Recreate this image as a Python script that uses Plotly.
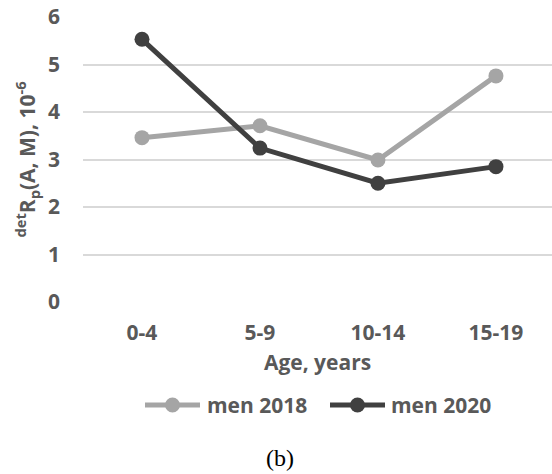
import plotly.graph_objects as go

# Age groups and risk values (x 10^-6)
age_groups = ["0-4", "5-9", "10-14", "15-19"]
men_2018 = [3.46, 3.71, 2.99, 4.76]
men_2020 = [5.53, 3.24, 2.50, 2.85]
y_ticks = [0, 1, 2, 3, 4, 5, 6]
series_names = ["men 2018", "men 2020"]
series_colors = ["#A5A5A5", "#404040"]

GREY_TEXT = "#595959"
FONT = "Open Sans"
BOLD = dict(family=FONT, size=21, color=GREY_TEXT, weight="bold")

# plot area geometry in pixels (used to place the legend in paper units)
W, H = 552, 474
L, R, T, B = 83, 0, 17, 172
PW, PH = W - L - R, H - T - B


def px_to_paper(px, py):
    return (px - L) / PW, (H - B - py) / PH


fig = go.Figure()
for name, vals, col in zip(series_names, [men_2018, men_2020], series_colors):
    fig.add_trace(go.Scatter(
        x=age_groups, y=vals, mode="lines+markers", name=name,
        line=dict(color=col, width=5),
        marker=dict(color=col, size=15),
        showlegend=False,
    ))

fig.update_layout(
    width=W, height=H,
    margin=dict(l=L, r=R, t=T, b=B),
    plot_bgcolor="white", paper_bgcolor="white",
    font=BOLD,
    xaxis=dict(
        type="category", range=[-0.5, 3.475],
        showgrid=False, zeroline=False, showline=False, ticks="",
        ticklabelstandoff=16,
        tickfont=BOLD,
        title=dict(text="Age, years", standoff=10, font=BOLD),
    ),
    yaxis=dict(
        range=[0, 6], tickvals=y_ticks,
        showgrid=True, gridcolor="#D9D9D9", gridwidth=1.5,
        zeroline=False, showline=False, ticks="", ticklabelstandoff=22,
        tickfont=BOLD,
        title=dict(text="<sup>det</sup>R<sub>p</sub>(A, M), 10<sup>-6</sup>",
                   standoff=6, font=BOLD),
    ),
)

# legend: line sample with a centred marker, then the label
legend_items = [(145, 200, 205), (330, 385, 389)]
leg_y = 405
for (x0, x1, xt), name, col in zip(legend_items, series_names, series_colors):
    a0, yy = px_to_paper(x0, leg_y)
    a1, _ = px_to_paper(x1, leg_y)
    am, _ = px_to_paper((x0 + x1) / 2, leg_y)
    fig.add_shape(type="line", xref="paper", yref="paper", x0=a0, x1=a1, y0=yy, y1=yy,
                  line=dict(color=col, width=5))
    fig.add_shape(type="circle", xref="paper", yref="paper",
                  xsizemode="pixel", ysizemode="pixel", xanchor=am, yanchor=yy,
                  x0=-7.5, x1=7.5, y0=-7.5, y1=7.5,
                  fillcolor=col, line=dict(width=0))
    at, _ = px_to_paper(xt, leg_y)
    fig.add_annotation(text=name, xref="paper", yref="paper", x=at, y=yy,
                       xanchor="left", yanchor="middle", showarrow=False, font=BOLD)

fig.add_annotation(
    text="(b)", xref="paper", yref="paper", x=px_to_paper(280, 0)[0], y=px_to_paper(0, 458)[1],
    xanchor="center", yanchor="middle", showarrow=False,
    font=dict(family="Liberation Serif", size=24, color="black", weight="normal"),
)

fig.write_html("out.html")
